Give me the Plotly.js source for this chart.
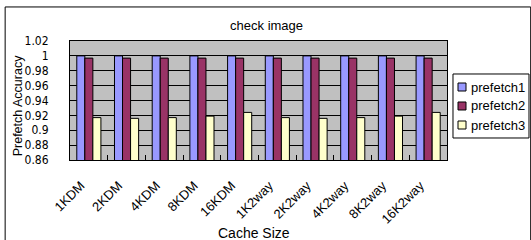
<!DOCTYPE html>
<html>
<head>
<meta charset="utf-8">
<script src="https://cdn.plot.ly/plotly-3.0.1.min.js"></script>
<style>html,body{margin:0;padding:0;background:#fff;}#chart{width:531px;height:240px;}</style>
</head>
<body>
<div id="chart"></div>
<script>
var categories = ["1KDM","2KDM","4KDM","8KDM","16KDM","1K2way","2K2way","4K2way","8K2way","16K2way"];
var prefetch1 = [1.0,1.0,1.0,1.0,1.0,1.0,1.0,1.0,1.0,1.0];
var prefetch2 = [0.997,0.997,0.997,0.997,0.997,0.997,0.997,0.997,0.997,0.997];
var prefetch3 = [0.917,0.916,0.917,0.919,0.924,0.917,0.916,0.917,0.919,0.924];
var seriesNames = ["prefetch1","prefetch2","prefetch3"];
var seriesColors = ["#9999ff","#993366","#ffffcc"];
var yTicks = [0.86,0.88,0.9,0.92,0.94,0.96,0.98,1,1.02];
var yTickText = ["0.86","0.88","0.9","0.92","0.94","0.96","0.98","1","1.02"];

var font = "'Liberation Sans', Arial, sans-serif";
var data = [prefetch1, prefetch2, prefetch3].map(function(vals, i){
  return {
    type: "bar", x: categories, y: vals, name: seriesNames[i],
    marker: {color: seriesColors[i], line: {color: "#000", width: 1}}
  };
});

// hand-drawn legend (Excel style: small square + text), placed in paper coords
var legendShapes = [{
  type: "rect", xref: "paper", yref: "paper",
  x0: 1.0159, x1: 1.2175, y0: 0.185, y1: 0.7227,
  line: {color: "#000", width: 1}, fillcolor: "#fff"
}];
var legendAnn = [];
var legY = [0.6134, 0.4538, 0.2941];
seriesNames.forEach(function(n, i){
  legendShapes.push({
    type: "rect", xref: "paper", yref: "paper",
    x0: 1.0292, x1: 1.0504, y0: legY[i] - 0.0336, y1: legY[i] + 0.0336,
    line: {color: "#000", width: 1}, fillcolor: seriesColors[i]
  });
  legendAnn.push({
    text: n, xref: "paper", yref: "paper", x: 1.0584, y: legY[i],
    xanchor: "left", yanchor: "middle", showarrow: false,
    font: {size: 13, family: font}
  });
});

var layout = {
  width: 531, height: 240,
  margin: {l: 70, r: 84, t: 41, b: 80, pad: 0, autoexpand: false},
  paper_bgcolor: "#ffffff",
  plot_bgcolor: "#c0c0c0",
  font: {family: font, size: 11, color: "#000"},
  barmode: "group",
  bargap: 0.36,
  bargroupgap: 0,
  showlegend: false,
  title: {text: "check image", x: 0.502, xanchor: "center", y: 0.896, yanchor: "middle",
          font: {size: 13, family: font, color: "#000"}},
  xaxis: {
    type: "category",
    tickangle: -45,
    tickson: "boundaries",
    ticks: "inside", ticklen: 5, tickcolor: "#000", tickwidth: 1,
    ticklabelstandoff: 12,
    ticklabelshift: -8,
    showline: true, linecolor: "#000", linewidth: 1, mirror: true,
    showgrid: false,
    automargin: false,
    tickfont: {size: 13, family: font}
  },
  yaxis: {
    range: [0.86, 1.02],
    tickvals: yTicks, ticktext: yTickText,
    ticks: "", ticklabelstandoff: 18,
    showline: true, linecolor: "#000", linewidth: 1, mirror: true,
    showgrid: true, gridcolor: "#000", gridwidth: 1,
    zeroline: false,
    automargin: false,
    tickfont: {size: 12, family: "'DejaVu Sans Condensed', 'Liberation Sans Narrow', 'Liberation Sans', sans-serif"}
  },
  annotations: [
    {text: "Prefetch Accuracy", xref: "paper", yref: "paper", x: -0.137, y: 0.454,
     xanchor: "center", yanchor: "middle", textangle: -90, showarrow: false,
     font: {size: 12.5, family: font}},
    {text: "Cache Size", xref: "paper", yref: "paper", x: 0.488, y: -0.615,
     xanchor: "center", yanchor: "middle", showarrow: false,
     font: {size: 14, family: font}}
  ].concat(legendAnn),
  shapes: [{
    type: "rect", xref: "paper", yref: "paper",
    x0: -0.172, x1: 1.222, y0: -0.75, y1: 1.286,
    line: {color: "#000", width: 1}, fillcolor: "rgba(0,0,0,0)", layer: "below"
  }].concat(legendShapes)
};

Plotly.newPlot("chart", data, layout, {displayModeBar: false, staticPlot: true});
</script>
</body>
</html>
